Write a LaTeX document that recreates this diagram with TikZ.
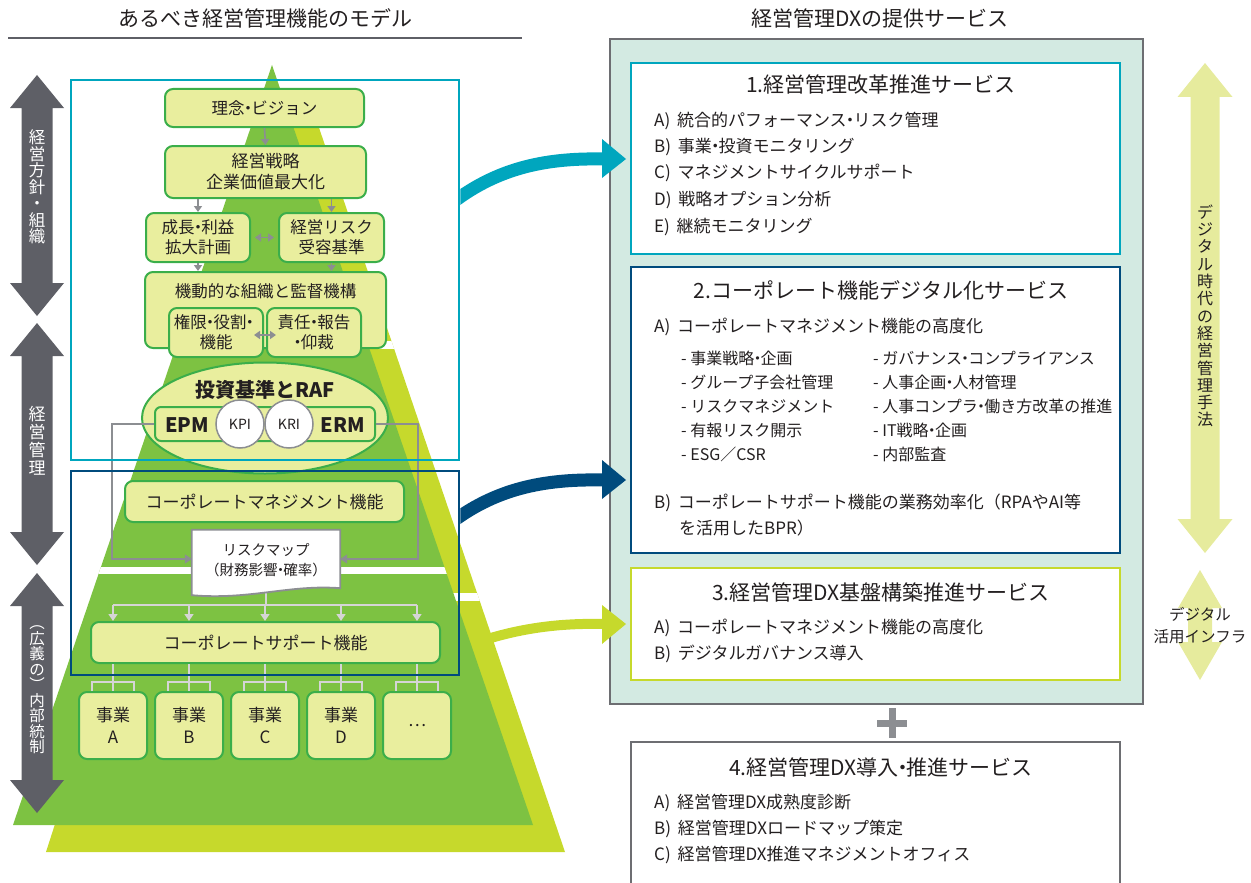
\documentclass[tikz,border=0pt]{standalone}
\usepackage{fontspec}
\setmainfont{Noto Sans CJK JP}
\usetikzlibrary{shapes.geometric,arrows.meta,calc}
\definecolor{dkgreen}{HTML}{7DC242}
\definecolor{ltgreen}{HTML}{C6D92C}
\definecolor{boxfill}{HTML}{E9EE9E}
\definecolor{boxline}{HTML}{3BAE4A}
\definecolor{cyanc}{HTML}{00A6BE}
\definecolor{navy}{HTML}{004B7D}
\definecolor{panel}{HTML}{D3EAE2}
\definecolor{panelline}{HTML}{6D6E72}
\definecolor{yarrow}{HTML}{E6EB9D}
\definecolor{conn}{HTML}{8C8E92}
\definecolor{lconn}{HTML}{D5D5D5}
\definecolor{darrow}{HTML}{5E5F66}
\definecolor{txt}{HTML}{231F20}
\newcommand\myfs[1]{\fontsize{#1}{#1}\selectfont}
\newcommand\myfsl[2]{\fontsize{#1}{#2}\selectfont}
\newcommand\dt{\hspace{-0.3em}・\hspace{-0.3em}}
% x, top, bottom, head half width, shaft half width, head length, colour
\newcommand\vdarrow[7]{%
  \fill[#7] (#1,#2) -- ({#1+#4},{#2+#6}) -- ({#1+#5},{#2+#6}) -- ({#1+#5},{#3-#6}) -- ({#1+#4},{#3-#6}) -- (#1,#3) -- ({#1-#4},{#3-#6}) -- ({#1-#5},{#3-#6}) -- ({#1-#5},{#2+#6}) -- ({#1-#4},{#2+#6}) -- cycle;}
\begin{document}
\begin{tikzpicture}[x=1pt,y=-1pt,
  every node/.style={text=txt},
  ybox/.style={draw=boxline, line width=2pt, fill=boxfill, rounded corners=8pt, align=center, inner sep=0pt, font=\myfsl{16.5}{20}},
  frame/.style={line width=2.5pt, inner sep=0pt},
  garr/.style={conn, line width=1.6pt, -{Triangle[width=8pt,length=6pt]}},
  gdarr/.style={conn, line width=1.6pt, {Triangle[width=8pt,length=6pt]}-{Triangle[width=8pt,length=6pt]}},
  lgarr/.style={lconn, line width=1.6pt, -{Triangle[width=9pt,length=7pt]}},
  lgline/.style={lconn, line width=1.6pt},
  gline/.style={conn, line width=1.6pt},
  wvert/.style={text=white, align=center, inner sep=0pt},
  svcbox/.style={fill=white, line width=2.5pt, minimum width=489pt, inner sep=0pt},
  item/.style={anchor=west, inner sep=0pt, font=\myfs{17}},
  subitem/.style={anchor=west, inner sep=0pt, font=\myfs{16}},
  stitle/.style={font=\myfs{21}, inner sep=0pt},
  jbox/.style={ybox, minimum width=68pt, minimum height=67pt, font=\myfsl{17}{22}},
]
\useasboundingbox (0,0) rectangle (1251,883);
\clip (0,0) rectangle (1251,883);

% headers
\node[font=\myfs{21}] (hl) at (265,18) {あるべき経営管理機能のモデル};
\draw[line width=1.5pt, darrow] (8,38) -- (522,38);
\node[font=\myfs{21}] (hr) at (880,18) {経営管理DXの提供サービス};

% pyramids
\fill[ltgreen] (285,110) -- (313,110) -- (565,852) -- (46,852) -- cycle;
\begin{scope}
  \clip (285,110) -- (313,110) -- (565,852) -- (46,852) -- cycle;
  \fill[white] (0,341) rectangle (600,349);
  \fill[white] (0,593) rectangle (600,601);
\end{scope}
\fill[dkgreen] (272,65) -- (533,825) -- (13,825) -- cycle;
\begin{scope}
  \clip (272,65) -- (533,825) -- (13,825) -- cycle;
  \fill[white] (0,315) rectangle (600,322);
  \fill[white] (0,567) rectangle (600,574);
\end{scope}

% left double arrows
\vdarrow{37}{75}{316}{27}{15.5}{33}{darrow}
\vdarrow{37}{323}{565}{27}{15.5}{33}{darrow}
\vdarrow{37}{573}{813}{27}{15.5}{33}{darrow}
\node[wvert, font=\myfsl{16.5}{16.5}] (v1) at (37,187) {経\\営\\方\\針\\・\\組\\織};
\node[wvert, font=\myfsl{17}{18}] (v2) at (37,441) {経\\営\\管\\理};
\node[wvert, font=\myfsl{15.5}{15.5}] (v3) at (37,690) {︵\\広\\義\\の\\︶\\内\\部\\統\\制};

% upper boxes
\node[ybox, minimum width=199pt, minimum height=38pt] (rinen) at (264.5,108) {理念\dt ビジョン};
\node[ybox, minimum width=201pt, minimum height=52pt, font=\myfsl{17}{21}] (senryaku) at (265.5,172) {経営戦略\\企業価値最大化};
\node[ybox, minimum width=104pt, minimum height=49pt] (seicho) at (198,237.5) {成長\dt 利益\\拡大計画};
\node[ybox, minimum width=105pt, minimum height=49pt] (riskc) at (331.5,237.5) {経営リスク\\受容基準};
\node[ybox, minimum width=241pt, minimum height=76pt] (kido) at (265.5,310) {};
\node[font=\myfs{16.5}] (kidot) at (265.5,291) {機動的な組織と監督機構};
\node[ybox, minimum width=94pt, minimum height=49pt] (kengen) at (216,332.5) {権限\dt 役割\dt\\機能};
\node[ybox, minimum width=94pt, minimum height=49pt] (sekinin) at (314,332.5) {責任\dt 報告\\\dt 仰裁};

\draw[garr] (rinen.south) -- (senryaku.north);
\draw[garr] (senryaku.south -| seicho.north) -- (seicho.north);
\draw[garr] (senryaku.south -| riskc.north) -- (riskc.north);
\draw[garr] (seicho.south) -- (seicho.south |- kido.north);
\draw[garr] (riskc.south) -- (riskc.south |- kido.north);
\draw[gdarr] ($(seicho.east)+(4,0)$) -- ($(riskc.west)+(-4,0)$);
\draw[gdarr] ($(kengen.east)+(-10,2.5)$) -- ($(sekinin.west)+(10,2.5)$);

% RAF ellipse
\node[ellipse, draw=boxline, line width=2pt, fill=boxfill, minimum width=246pt, minimum height=111pt, inner sep=0pt] (raf) at (265,418) {};
\node[font=\myfs{20}\bfseries] (raft) at (265,390) {投資基準とRAF};
\node[ybox, minimum width=220pt, minimum height=34pt, rounded corners=6pt] (inner) at (265,424) {};
\node[font=\myfs{20}\bfseries] (epm) at (187,425) {EPM};
\node[font=\myfs{20}\bfseries] (erm) at (343,425) {ERM};
\node[circle, draw=conn, line width=1.5pt, fill=white, minimum size=48pt, inner sep=0pt, font=\myfs{14}] (kpi) at (240,424) {KPI};
\node[circle, draw=conn, line width=1.5pt, fill=white, minimum size=48pt, inner sep=0pt, font=\myfs{14}] (kri) at (289,424) {KRI};

% corporate management
\node[ybox, minimum width=279pt, minimum height=41pt, font=\myfs{17}] (cm) at (264.5,501.5) {コーポレートマネジメント機能};

% risk map
\node[minimum width=148pt, minimum height=58pt, inner sep=0pt] (riskmap) at (266,559) {};
\draw[gline, -{Triangle[width=9pt,length=7pt]}] (inner.west) -- ++(-42,0) |- (riskmap.west);
\draw[gline, -{Triangle[width=9pt,length=7pt]}] (inner.east) -- ++(42,0) |- (riskmap.east);
\draw[lgline] (riskmap.center) -- ($(riskmap.south)+(0,18)$);
\filldraw[fill=white, draw=conn, line width=1.8pt] (riskmap.north west) -- (riskmap.north east) -- (riskmap.south east) .. controls ($(riskmap.south east)+(-50,-4)$) and ($(riskmap.south west)+(58,12)$) .. ($(riskmap.south west)+(0,7)$) -- cycle;
\node[align=center, font=\myfsl{14.5}{20}] (rmt) at (266,560) {リスクマップ\\（財務影響\dt 確率）};

% corporate support and business units
\node[ybox, minimum width=349pt, minimum height=41pt, font=\myfs{17}] (cs) at (265.5,642.5) {コーポレートサポート機能};
\node[jbox] (jA) at (113,725.5) {事業\\A};
\node[jbox] (jB) at (189,725.5) {事業\\B};
\node[jbox] (jC) at (265,725.5) {事業\\C};
\node[jbox] (jD) at (341,725.5) {事業\\D};
\node[jbox] (jE) at (417,725.5) {…};
\draw[lgline] ($(cs.north -| jA.north)+(0,-16)$) -- ($(cs.north -| jE.north)+(0,-16)$);
\foreach \n in {jA,jB,jC,jD,jE}{
  \draw[lgarr] ($(cs.north -| \n.north)+(0,-16)$) -- (cs.north -| \n.north);
  \draw[lgline] (cs.south -| \n.north) -- (\n.north);
  \draw[lgline] ($(\n.north)+(-21,0)$) -- ++(0,-9) -- ++(42,0) -- ++(0,9);
}

% frames
\node[draw=cyanc, frame, minimum width=388pt, minimum height=380pt] (cyanbox) at (265,270) {};
\node[draw=navy, frame, minimum width=388pt, minimum height=204pt] (navybox) at (265,573) {};

% right panel
\node[fill=panel, draw=panelline, line width=2.5pt, minimum width=533pt, minimum height=665pt, inner sep=0pt] (panelbox) at (876.5,371.5) {};
\node[svcbox, draw=cyanc, minimum height=191pt] (s1) at (875.5,158.5) {};
\node[svcbox, draw=navy, minimum height=286pt] (s2) at (875.5,410) {};
\node[svcbox, draw=ltgreen, minimum height=112pt] (s3) at (875.5,624) {};
\node[svcbox, draw=panelline, line width=2pt, minimum height=176pt] (s4) at (875.5,830) {};

\node[stitle] (t1) at (881,85) {1.経営管理改革推進サービス};
\node[item] (i1a) at (654,121) {A)\hspace{0.4em}統合的パフォーマンス\dt リスク管理};
\node[item] (i1b) at (654,147) {B)\hspace{0.4em}事業\dt 投資モニタリング};
\node[item] (i1c) at (654,173) {C)\hspace{0.4em}マネジメントサイクルサポート};
\node[item] (i1d) at (654,200) {D)\hspace{0.4em}戦略オプション分析};
\node[item] (i1e) at (654,227) {E)\hspace{0.4em}継続モニタリング};

\node[stitle] (t2) at (881,290) {2.コーポレート機能デジタル化サービス};
\node[item] (i2a) at (654,327) {A)\hspace{0.4em}コーポレートマネジメント機能の高度化};
\node[subitem] (l1) at (681,358) {- 事業戦略\dt 企画};
\node[subitem] (l2) at (681,382) {- グループ子会社管理};
\node[subitem] (l3) at (681,406) {- リスクマネジメント};
\node[subitem] (l4) at (681,430) {- 有報リスク開示};
\node[subitem] (l5) at (681,454) {- ESG／CSR};
\node[subitem] (r1) at (873,358) {- ガバナンス\dt コンプライアンス};
\node[subitem] (r2) at (873,382) {- 人事企画\dt 人材管理};
\node[subitem] (r3) at (873,406) {- 人事コンプラ\dt 働き方改革の推進};
\node[subitem] (r4) at (873,430) {- IT戦略\dt 企画};
\node[subitem] (r5) at (873,454) {- 内部監査};
\node[item] (i2b) at (654,503) {B)\hspace{0.4em}コーポレートサポート機能の業務効率化（RPAやAI等};
\node[item] (i2b2) at (679,528) {を活用したBPR）};

\node[stitle] (t3) at (881,592) {3.経営管理DX基盤構築推進サービス};
\node[item] (i3a) at (654,628) {A)\hspace{0.4em}コーポレートマネジメント機能の高度化};
\node[item] (i3b) at (654,654) {B)\hspace{0.4em}デジタルガバナンス導入};

% plus
\fill[conn] (877,719.5) rectangle (907,726.5);
\fill[conn] (888.5,708) rectangle (895.5,738);

\node[stitle] (t4) at (881,767) {4.経営管理DX導入\dt 推進サービス};
\node[item] (i4a) at (654,803) {A)\hspace{0.4em}経営管理DX成熟度診断};
\node[item] (i4b) at (654,829) {B)\hspace{0.4em}経営管理DXロードマップ策定};
\node[item] (i4c) at (654,855) {C)\hspace{0.4em}経営管理DX推進マネジメントオフィス};

% right yellow arrows
\vdarrow{1205}{63}{553}{27.5}{14.5}{34}{yarrow}
\node[align=center, inner sep=0pt, font=\myfsl{16}{17.3}] (vr) at (1205,316) {デ\\ジ\\タ\\ル\\時\\代\\の\\経\\営\\管\\理\\手\\法};
\vdarrow{1200}{570}{680}{22}{12}{38}{yarrow}
\node[align=center, inner sep=0pt, font=\myfsl{15.5}{22}] (infra) at (1200,626) {デジタル\\活用インフラ};

% curved arrows
\coordinate (c1a) at (452,203);
\coordinate (c1b) at (603,159);
\coordinate (c2a) at (452,522);
\coordinate (c2b) at (603,480);
\coordinate (c3a) at (478,642);
\coordinate (c3b) at (603,624);
\begin{scope}
  \clip (cyanbox.north east) rectangle (700,883);
  \draw[cyanc, line width=13pt] (c1a) .. controls (500,166) and (550,158) .. (c1b);
  \draw[navy, line width=13pt] (c2a) .. controls (500,486) and (550,479) .. (c2b);
\end{scope}
\draw[ltgreen, line width=10pt] (c3a) .. controls (520,628) and (560,623) .. (c3b);
\fill[cyanc] ($(c1b)+(-1,-20)$) -- ($(c1b)+(23,0)$) -- ($(c1b)+(-1,19)$) -- cycle;
\fill[navy] ($(c2b)+(-1,-20)$) -- ($(c2b)+(23,0)$) -- ($(c2b)+(-1,19)$) -- cycle;
\fill[ltgreen] ($(c3b)+(-1,-19)$) -- ($(c3b)+(23,0)$) -- ($(c3b)+(-1,20)$) -- cycle;
\end{tikzpicture}
\end{document}
